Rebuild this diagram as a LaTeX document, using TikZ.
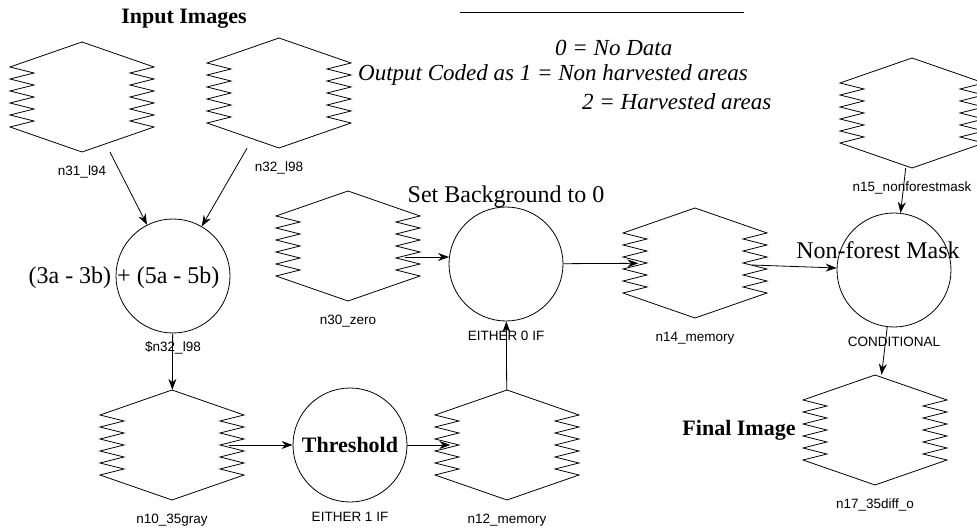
\documentclass[tikz,border=0pt]{standalone}
\usepackage{fontspec}
\setmainfont{Liberation Serif}
\setsansfont{Liberation Sans}
\usetikzlibrary{arrows.meta,positioning}
\tikzset{
  imgbox/.style={minimum width=113pt,minimum height=110pt,inner sep=0pt},
  imgline/.style={line width=0.8pt},
  opnode/.style={draw,circle,line width=0.8pt,minimum size=114pt,inner sep=0pt,font=\fontsize{22}{26}\selectfont\bfseries},
  nlabel/.style={font=\sffamily\fontsize{13.5}{16}\selectfont,inner sep=0pt},
  ttl/.style={font=\fontsize{24}{28}\selectfont,inner sep=0pt},
  bttl/.style={font=\fontsize{22}{26}\selectfont\bfseries,inner sep=0pt},
  legend/.style={font=\fontsize{23}{27}\selectfont\itshape,inner sep=0pt,anchor=west},
  flow/.style={-{Stealth[length=11pt,width=8pt]},line width=0.8pt},
  imgshape/.pic={
    \draw[imgline] (0,-55) -- (-72,-30)
      \foreach \k in {0,...,4} {-- (-48,-24+12*\k) -- (-72,-18+12*\k)}
      -- (0,55) -- (72,30)
      \foreach \k in {0,...,4} {-- (48,24-12*\k) -- (72,18-12*\k)}
      -- cycle;
  },
}

\begin{document}
\begin{tikzpicture}[x=1pt,y=-1pt]
  \useasboundingbox (0,0) rectangle (977,529);
  \clip (0,0) rectangle (977,529);
  % image layers
  \node[imgbox] (n31) at (82,97) {};
  \node[imgbox] (n32) at (279,93) {};
  \node[imgbox] (n30) at (348,246) {};
  \node[imgbox] (n10) at (172,445) {};
  \node[imgbox] (n12) at (507,445) {};
  \node[imgbox] (n14) at (695,263) {};
  \node[imgbox] (n15) at (912,113) {};
  \node[imgbox] (n17) at (875,430) {};
  \foreach \n in {n31,n32,n30,n10,n12,n14,n15,n17} \pic at (\n) {imgshape};
  \foreach \n/\t in {n31/n31\_l94,n32/n32\_l98,n30/n30\_zero,n10/n10\_35gray,n12/n12\_memory,n14/n14\_memory,n15/n15\_nonforestmask,n17/n17\_35diff\_o}
    \node[nlabel,below=20pt of \n.south,anchor=center] (\n-lab) {\t};
  % operators
  \node[opnode] (sum) at (173,276) {};
  \node[opnode] (thr) at (350,445) {Threshold};
  \node[opnode] (bg) at (506,264) {};
  \node[opnode] (mask) at (894,270) {};
  \foreach \n/\t in {sum/\$n32\_l98,thr/EITHER 1 IF,bg/EITHER 0 IF,mask/CONDITIONAL}
    \node[nlabel,below=14pt of \n.south,anchor=center] (\n-lab) {\t};
  % titles
  \node[bttl] (intitle) at (184,19) {Input Images};
  \node[ttl] (sumtxt) at (124,278) {(3a - 3b) + (5a - 5b)};
  \node[ttl] (bgtitle) at (506,197) {Set Background to 0};
  \node[ttl] (masktitle) at (878,250) {Non-forest Mask};
  \node[bttl] (fintitle) at (739,430) {Final Image};
  % legend
  \draw[imgline] (460,12) -- (744,12);
  \node[legend] (leg0) at (555,48) {0 = No Data};
  \node[legend] (leg1) at (358,75) {Output Coded as 1 = Non harvested areas};
  \node[legend] (leg2) at (582,102) {2 = Harvested areas};
  % connectors
  \foreach \a/\b in {n31/sum,n32/sum,sum/n10,n10/thr,thr/n12,n12/bg,bg/n14,n14/mask,n15/mask,mask/n17} \draw[flow] (\a) -- (\b);
  \draw[flow] (n30.east |- bg.173) -- (bg.173);
\end{tikzpicture}
\end{document}
